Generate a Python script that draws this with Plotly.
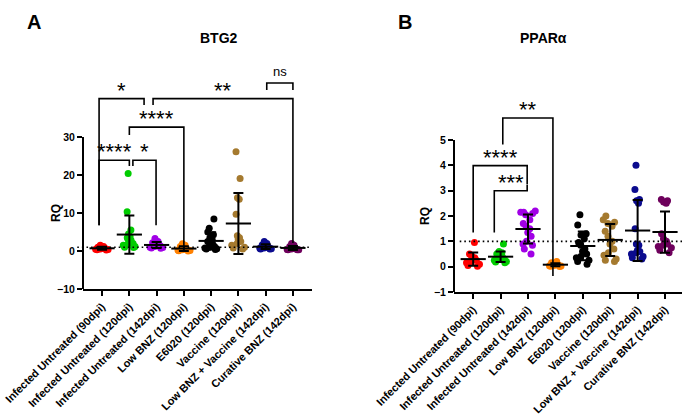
import numpy as np
import plotly.graph_objects as go

# ---------------- data ----------------
categories = ["Infected Untreated (90dpi)", "Infected Untreated (120dpi)",
              "Infected Untreated (142dpi)", "Low BNZ (120dpi)", "E6020 (120dpi)",
              "Vaccine (120dpi)", "Low BNZ + Vaccine (142dpi)", "Curative BNZ (142dpi)"]
colors = ["#FF0000", "#00CC00", "#A100E6", "#FF8000", "#000000", "#A57A2F", "#0B0B8E", "#6E005C"]

# BTG2 (panel A), RQ values per mouse
btg2_inf90 = [1.5, 1.2, 1.0, 0.9, 0.8, 0.7, 0.6, 0.5, 0.45, 0.4, 0.3, 0.25]
btg2_inf120 = [20.4, 10.3, 5.5, 4.5, 3.8, 3.5, 3.2, 2.8, 2.5, 2.0, 1.8, 1.5, 1.2, 1.0, 0.9]
btg2_inf142 = [3.3, 2.5, 2.2, 1.9, 1.7, 1.5, 1.4, 1.2, 1.0, 0.9, 0.8, 0.7]
btg2_lowbnz = [1.9, 1.5, 1.2, 0.9, 0.6, 0.5, 0.4, 0.3, 0.2, 0.1, 0.05, 0.0]
btg2_e6020 = [8.4, 6.0, 5.0, 4.3, 3.5, 3.0, 2.5, 2.0, 1.8, 1.5, 1.2, 1.0, 0.8, 0.6, 0.5, 0.4]
btg2_vaccine = [26.1, 19.1, 14.0, 13.6, 9.7, 4.0, 3.5, 3.0, 2.5, 2.0, 1.5, 1.0, 0.8, 0.5]
btg2_lowbnz_vac = [2.5, 2.0, 1.6, 1.4, 1.2, 1.0, 0.9, 0.8, 0.7, 0.6, 0.5, 0.5]
btg2_curative = [2.0, 1.5, 1.2, 1.0, 0.8, 0.7, 0.6, 0.5, 0.4, 0.35, 0.3, 0.3]

# PPARalpha (panel B)
ppar_inf90 = [0.95, 0.5, 0.42, 0.35, 0.3, 0.25, 0.2, 0.15, 0.1, 0.05, 0.02]
ppar_inf120 = [0.9, 0.6, 0.55, 0.5, 0.45, 0.4, 0.35, 0.3, 0.3, 0.25, 0.2, 0.18, 0.15]
ppar_inf142 = [2.2, 2.15, 2.15, 2.1, 2.05, 1.85, 1.7, 1.6, 1.5, 1.35, 1.2, 1.0, 0.9, 0.85, 0.7, 0.5]
ppar_lowbnz = [0.2, 0.15, 0.12, 0.1, 0.08, 0.06, 0.05, 0.04, 0.03, 0.02, 0.01]
ppar_e6020 = [2.05, 1.65, 1.3, 1.25, 1.1, 0.95, 0.85, 0.7, 0.6, 0.5, 0.4, 0.35, 0.25, 0.2, 0.1]
ppar_vaccine = [2.0, 1.85, 1.75, 1.7, 1.6, 1.4, 1.2, 1.0, 0.9, 0.7, 0.55, 0.45, 0.3, 0.25, 0.2]
ppar_lowbnz_vac = [4.0, 3.05, 2.65, 2.6, 2.5, 1.5, 0.9, 0.85, 0.65, 0.6, 0.55, 0.5, 0.4, 0.35, 0.3]
ppar_curative = [2.65, 2.6, 2.55, 2.5, 1.3, 1.1, 1.0, 0.95, 0.9, 0.85, 0.8, 0.75, 0.65, 0.55]

btg2_ticks = [-10, 0, 10, 20, 30]
ppar_ticks = [-1, 0, 1, 2, 3, 4, 5]

# significance comparisons: (left x, left leg bottom, right x, right leg bottom, top, label)
btg2_sig = [
    (-0.11, 6.8, 1.54, 38.4, 40.1, "*"),
    (1.87, 38.4, 7.0, 2.1, 40.1, "**"),
    (6.04, 42.4, 7.0, 42.4, 44.2, "ns"),
    (1.0, 30.5, 3.0, 1.05, 32.6, "****"),
    (-0.11, 6.8, 1.0, 22.4, 23.9, "****"),
    (1.13, 22.4, 1.98, 6.8, 23.9, "*"),
]
ppar_sig = [
    (1.08, 4.82, 2.91, -0.37, 5.87, "**"),
    (0.0, 1.35, 1.97, 3.24, 3.99, "****"),
    (0.77, 1.35, 1.97, 3.22, 3.0, "***"),
]

btg2_groups = [btg2_inf90, btg2_inf120, btg2_inf142, btg2_lowbnz,
               btg2_e6020, btg2_vaccine, btg2_lowbnz_vac, btg2_curative]
ppar_groups = [ppar_inf90, ppar_inf120, ppar_inf142, ppar_lowbnz,
               ppar_e6020, ppar_vaccine, ppar_lowbnz_vac, ppar_curative]

FONT = "Arial, Liberation Sans, sans-serif"

fig = go.Figure()


def add_panel(groups, xa, ya):
    for i, vals in enumerate(groups):
        fig.add_trace(go.Box(
            x=[i] * len(vals), y=vals, boxpoints="all", jitter=1.0, pointpos=0,
            width=0.6, fillcolor="rgba(0,0,0,0)",
            line=dict(color="rgba(0,0,0,0)", width=0),
            marker=dict(color=colors[i], size=7, line=dict(width=0)),
            showlegend=False, hoverinfo="y", xaxis=xa, yaxis=ya))
    means = [float(np.mean(v)) for v in groups]
    sds = [float(np.std(v, ddof=1)) for v in groups]
    fig.add_trace(go.Scatter(
        x=list(range(len(groups))), y=means, mode="markers",
        marker=dict(symbol="line-ew", size=18, color="black",
                    line=dict(width=2, color="black")),
        error_y=dict(type="data", array=sds, color="black", thickness=2, width=5),
        showlegend=False, xaxis=xa, yaxis=ya, cliponaxis=False))


add_panel(btg2_groups, "x", "y")
add_panel(ppar_groups, "x2", "y2")

shapes = []
annotations = []


def add_sig(sig, xr, yr):
    for (x0, b0, x1, b1, top, lab) in sig:
        shapes.append(dict(type="path", xref=xr, yref=yr,
                           path=f"M {x0},{b0} L {x0},{top} L {x1},{top} L {x1},{b1}",
                           line=dict(color="black", width=1.6)))
        if lab == "ns":
            annotations.append(dict(x=(x0 + x1) / 2, y=top, xref=xr, yref=yr, text=lab,
                                    showarrow=False, yanchor="bottom", yshift=2,
                                    font=dict(family=FONT, size=13, color="black")))
        else:
            annotations.append(dict(x=(x0 + x1) / 2, y=top, xref=xr, yref=yr, text=lab,
                                    showarrow=False, yanchor="bottom", yshift=-6,
                                    font=dict(family=FONT, size=22, color="black")))


add_sig(btg2_sig, "x", "y")
add_sig(ppar_sig, "x2", "y2")

# y axis lines (only over the tick span), dotted reference line at RQ = 1
for xr, yr, ticks, d0, d1 in [("x domain", "y", btg2_ticks, -0.025, 0.99),
                               ("x2 domain", "y2", ppar_ticks, 0.025, 1.0)]:
    shapes.append(dict(type="line", xref=xr, yref=yr, x0=0, x1=0,
                       y0=ticks[0], y1=ticks[-1], line=dict(color="black", width=2)))
    shapes.append(dict(type="line", xref=xr, yref=yr, x0=d0, x1=d1, y0=1, y1=1,
                       line=dict(color="black", width=1.6, dash="1.6px,3px")))

W, H = 684, 417
title_font = dict(family=FONT, size=14, color="black", weight="bold")
annotations += [
    dict(text="BTG2", x=197.5 / W, y=1 - 28 / H, xref="paper", yref="paper",
         showarrow=False, font=title_font),
    dict(text="PPARα", x=569 / W, y=1 - 28 / H, xref="paper", yref="paper",
         showarrow=False, font=title_font),
    dict(text="A", x=25 / W, y=1 - 9 / H, xref="paper", yref="paper", showarrow=False,
         font=dict(family=FONT, size=20, color="black", weight="bold")),
    dict(text="B", x=405 / W, y=1 - 9 / H, xref="paper", yref="paper", showarrow=False,
         font=dict(family=FONT, size=20, color="black", weight="bold")),
    dict(text="RQ", x=47 / W, y=1 - 213 / H, xref="paper", yref="paper", showarrow=False,
         textangle=-90, font=dict(family=FONT, size=12, color="black", weight="bold")),
    dict(text="RQ", x=425 / W, y=1 - 216 / H, xref="paper", yref="paper", showarrow=False,
         textangle=-90, font=dict(family=FONT, size=12, color="black", weight="bold")),
]

xcommon = dict(tickvals=list(range(8)), ticktext=categories, tickangle=-45,
               tickfont=dict(family=FONT, size=11, color="black", weight="bold"),
               showline=True, linewidth=2, linecolor="black", ticks="outside",
               ticklen=5, tickwidth=2, tickcolor="black", showgrid=False,
               zeroline=False, automargin=False)
ycommon = dict(tickfont=dict(family=FONT, size=10.5, color="black", weight="bold"),
               showline=False, ticks="outside", ticklen=5, tickwidth=2,
               tickcolor="black", showgrid=False, zeroline=False, automargin=False)

fig.update_layout(
    width=W, height=H, margin=dict(l=0, r=0, t=0, b=0),
    paper_bgcolor="white", plot_bgcolor="white", boxmode="overlay",
    xaxis=dict(domain=[83 / W, 312 / W], range=[-0.7, 7.7], anchor="y", **xcommon),
    yaxis=dict(domain=[1 - 289 / H, 1 - 72.4 / H], range=[-10, 47], anchor="x",
               tickvals=btg2_ticks, **ycommon),
    xaxis2=dict(domain=[454 / W, 682 / W], range=[-0.7, 7.62], anchor="y2", **xcommon),
    yaxis2=dict(domain=[1 - 292 / H, 1 - 99.5 / H], range=[-1, 6.6], anchor="x2",
                tickvals=ppar_ticks, **ycommon),
    shapes=shapes, annotations=annotations, showlegend=False,
)

fig.write_html("out.html", config={"displayModeBar": False},
               post_script="document.body.style.margin='0';document.body.style.padding='0';")
